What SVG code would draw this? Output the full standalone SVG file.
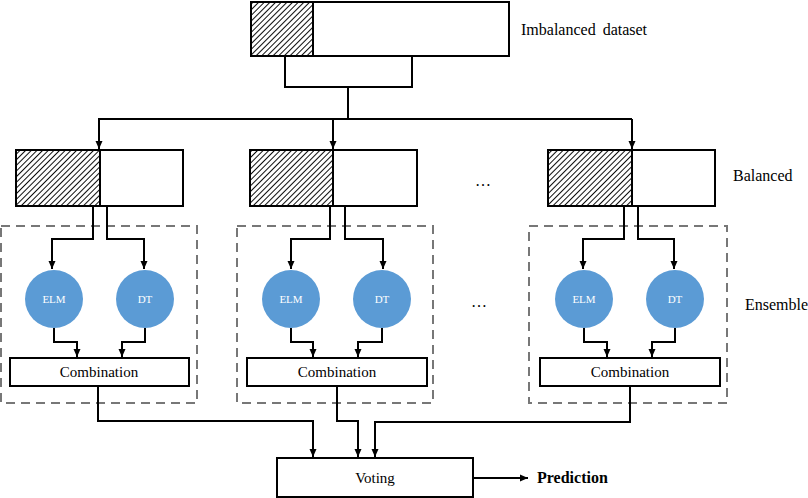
<svg xmlns="http://www.w3.org/2000/svg" width="808" height="498" viewBox="0 0 808 498">
<defs>
<pattern id="hatch" width="4" height="4" patternUnits="userSpaceOnUse" patternTransform="rotate(45)">
<rect width="4" height="4" fill="#fff"/>
<line x1="0" y1="0" x2="0" y2="4" stroke="#000" stroke-width="1.9"/>
</pattern>
<marker id="arr" markerWidth="8" markerHeight="8" refX="8" refY="4" orient="auto" markerUnits="userSpaceOnUse">
<path d="M0,0.5 L8,4 L0,7.5 z" fill="#000"/>
</marker>
</defs>
<style>
.box{fill:#fff;stroke:#000;stroke-width:2}
.hat{fill:url(#hatch);stroke:#000;stroke-width:2}
.dash{fill:none;stroke:#777;stroke-width:2;stroke-dasharray:9 6}
.circ{fill:#5b9bd5;stroke:none}
.ct{font-family:"Liberation Serif",serif;font-size:11px;fill:#fff;text-anchor:middle}
.t{font-family:"Liberation Serif",serif;font-size:16px;fill:#000}
.tc{font-family:"Liberation Serif",serif;font-size:15px;fill:#000;text-anchor:middle}
.c{fill:none;stroke:#000;stroke-width:2}
.ca{fill:none;stroke:#000;stroke-width:2;marker-end:url(#arr)}
</style>
<rect width="808" height="498" fill="#fff"/>

<g id="dataset">
<rect class="box" x="313" y="2" width="196" height="54"/>
<rect class="hat" x="251" y="2" width="62" height="54"/>
<polyline class="c" points="285,56 285,87 412,87 412,56"/>
<text class="t" x="521" y="35" word-spacing="3">Imbalanced dataset</text>
</g>

<g id="balanced1">
<rect class="box" x="100" y="150" width="83" height="56"/>
<rect class="hat" x="16" y="150" width="84" height="56"/>
</g>
<g id="balanced2">
<rect class="box" x="333" y="150" width="84" height="56"/>
<rect class="hat" x="250" y="150" width="83" height="56"/>
</g>
<g id="balanced3">
<rect class="box" x="632" y="150" width="83" height="56"/>
<rect class="hat" x="548" y="150" width="84" height="56"/>
</g>
<text id="label-balanced" class="t" x="733" y="181">Balanced</text>
<text id="dots1" class="t" x="475" y="186">…</text>

<g id="ensemble1">
<rect class="dash" x="1" y="226" width="196" height="177"/>
<g id="elm1"><circle class="circ" cx="54" cy="299" r="29"/><text class="ct" x="54" y="303">ELM</text></g>
<g id="dt1"><circle class="circ" cx="145" cy="299" r="29"/><text class="ct" x="145" y="303">DT</text></g>
<g id="comb1"><rect class="box" x="10" y="358" width="179" height="28"/><text class="tc" x="99" y="377">Combination</text></g>
</g>
<g id="ensemble2">
<rect class="dash" x="237" y="226" width="196" height="177"/>
<g id="elm2"><circle class="circ" cx="291" cy="299" r="29"/><text class="ct" x="291" y="303">ELM</text></g>
<g id="dt2"><circle class="circ" cx="382" cy="299" r="29"/><text class="ct" x="382" y="303">DT</text></g>
<g id="comb2"><rect class="box" x="247" y="358" width="180" height="28"/><text class="tc" x="337" y="377">Combination</text></g>
</g>
<g id="ensemble3">
<rect class="dash" x="529" y="226" width="198" height="177"/>
<g id="elm3"><circle class="circ" cx="584" cy="299" r="29"/><text class="ct" x="584" y="303">ELM</text></g>
<g id="dt3"><circle class="circ" cx="675" cy="299" r="29"/><text class="ct" x="675" y="303">DT</text></g>
<g id="comb3"><rect class="box" x="540" y="358" width="180" height="28"/><text class="tc" x="630" y="377">Combination</text></g>
</g>
<text id="label-ensemble" class="t" x="745" y="310">Ensemble</text>
<text id="dots2" class="t" x="471" y="307">…</text>

<g id="voting">
<rect class="box" x="277" y="458" width="196" height="39"/>
<text class="tc" x="375" y="483">Voting</text>
</g>
<text id="prediction" x="537" y="483" font-family="Liberation Serif, serif" font-size="16" font-weight="bold">Prediction</text>

<g id="connectors">
<line class="c" x1="348" y1="87" x2="348" y2="119"/>
<line class="c" x1="98" y1="119" x2="632" y2="119"/>
<line class="ca" x1="99" y1="118" x2="99" y2="149"/>
<line class="ca" x1="333" y1="119" x2="333" y2="149"/>
<line class="ca" x1="632" y1="119" x2="632" y2="149"/>

<polyline class="ca" points="93,206 93,239 52,239 52,269"/>
<polyline class="ca" points="107,206 107,239 144,239 144,269"/>
<polyline class="ca" points="54,328 54,342 77,342 77,357"/>
<polyline class="ca" points="145,328 145,342 122,342 122,357"/>

<polyline class="ca" points="330,206 330,239 291,239 291,269"/>
<polyline class="ca" points="345,206 345,239 383,239 383,269"/>
<polyline class="ca" points="291,328 291,342 313,342 313,357"/>
<polyline class="ca" points="382,328 382,342 358,342 358,357"/>

<polyline class="ca" points="624,206 624,239 583,239 583,269"/>
<polyline class="ca" points="638,206 638,239 674,239 674,269"/>
<polyline class="ca" points="584,328 584,342 607,342 607,357"/>
<polyline class="ca" points="675,328 675,342 652,342 652,357"/>

<polyline class="ca" points="98,386 98,421 313,421 313,457"/>
<polyline class="ca" points="337,386 337,421 358,421 358,457"/>
<polyline class="ca" points="630,386 630,422 375,422 375,457"/>
<line class="ca" x1="473" y1="478" x2="528" y2="478"/>
</g>
</svg>
